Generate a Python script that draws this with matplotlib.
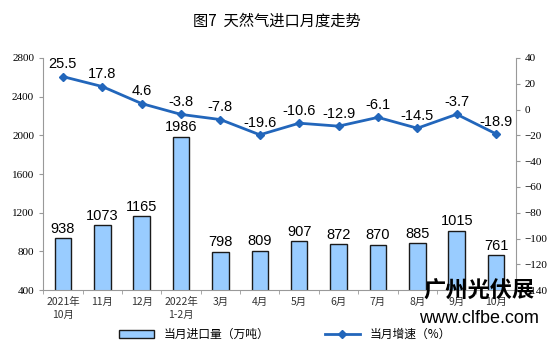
import matplotlib
matplotlib.use("Agg")
import matplotlib.pyplot as plt
import numpy as np

plt.rcParams['font.family'] = ['Noto Sans CJK SC', 'DejaVu Sans']

# chart data
months = ["2021年\n10月", "11月", "12月", "2022年\n1-2月", "3月", "4月",
          "5月", "6月", "7月", "8月", "9月", "10月"]
imports = [938, 1073, 1165, 1986, 798, 809, 907, 872, 870, 885, 1015, 761]
growth = [25.5, 17.8, 4.6, -3.8, -7.8, -19.6, -10.6, -12.9, -6.1, -14.5, -3.7, -18.9]

fig = plt.figure(figsize=(5.54, 3.53), dpi=100)
ax = fig.add_axes([0.078, 0.178, 0.853, 0.658])
x = np.arange(len(months))

bars = ax.bar(x, imports, width=0.42, color='#99CCFF', edgecolor='#1a1a1a',
              linewidth=1.0, label='当月进口量（万吨）', zorder=2)
for xi, v in zip(x, imports):
    ax.text(xi, v + 25, str(v), ha='center', va='bottom', fontsize=10.5,
            family='Liberation Sans')

ax.set_ylim(400, 2800)
ax.set_yticks(range(400, 2801, 400))
ax.set_xlim(-0.5, len(months) - 0.5)
ax.set_xticks(x)
ax.set_xticklabels(months, fontsize=7.5, color='#333333', linespacing=1.4)
ax.set_xticks(np.arange(-0.5, len(months), 1), minor=True)
ax.tick_params(axis='x', which='major', length=0, pad=5)
ax.tick_params(axis='x', which='minor', length=3, color='#999999')
ax.tick_params(axis='y', length=3, color='#999999', labelsize=8)
for lab in ax.get_yticklabels():
    lab.set_family('Liberation Serif')
for s in ['top', 'right']:
    ax.spines[s].set_visible(False)
for s in ['left', 'bottom']:
    ax.spines[s].set_color('#999999')

ax2 = ax.twinx()
line, = ax2.plot(x, growth, color='#2266BB', lw=2, marker='D', markersize=4,
                 label='当月增速（%）', zorder=3)
for xi, v in zip(x, growth):
    ax2.text(xi, v + 4, f"{v:.1f}", ha='center', va='bottom', fontsize=10.5,
             family='Liberation Sans')
ax2.set_ylim(-140, 40)
ax2.set_yticks(range(-140, 41, 20))
ax2.tick_params(axis='y', length=3, color='#999999', labelsize=8)
for lab in ax2.get_yticklabels():
    lab.set_family('Liberation Serif')
for s in ['top', 'left', 'bottom']:
    ax2.spines[s].set_visible(False)
ax2.spines['right'].set_color('#999999')

fig.text(0.5, 0.94, "图7  天然气进口月度走势", ha='center', va='center',
         fontsize=11, fontweight='medium')

fig.legend(handles=[bars], loc='center', bbox_to_anchor=(0.35, 0.052),
           frameon=False, fontsize=8.5, handlelength=3, handleheight=0.6)
fig.legend(handles=[line], loc='center', bbox_to_anchor=(0.70, 0.052),
           frameon=False, fontsize=8.5, handlelength=3)

# watermark
fig.text(0.865, 0.175, "广州光伏展", ha='center', va='center', fontsize=16,
         fontweight='bold', zorder=10)
fig.text(0.865, 0.098, "www.clfbe.com", ha='center', va='center', fontsize=13,
         family='Liberation Sans', zorder=10)

fig.savefig("out.png", dpi=100)
